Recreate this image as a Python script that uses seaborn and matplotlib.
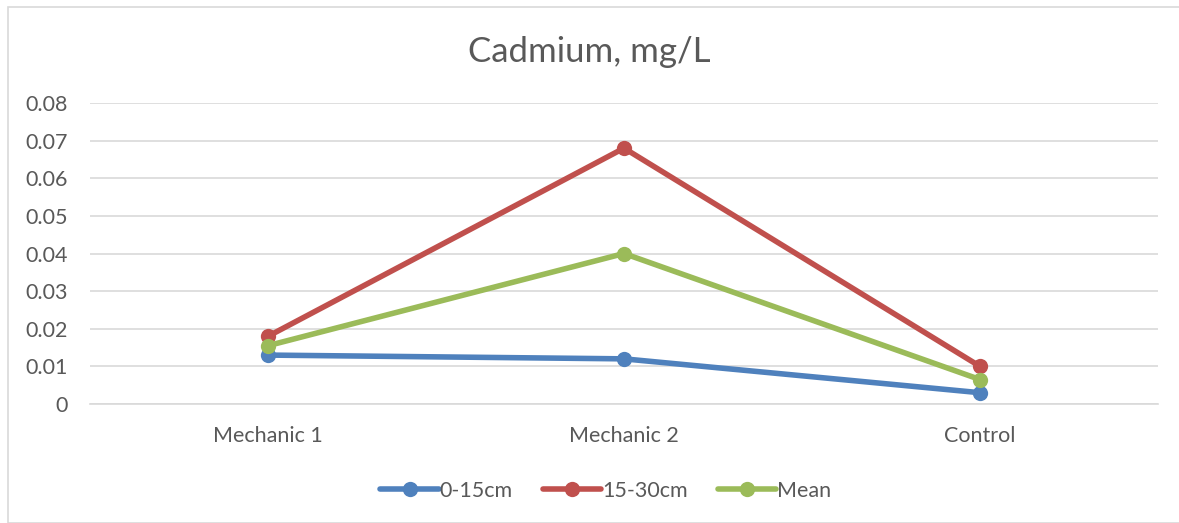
import matplotlib
matplotlib.use("Agg")
import matplotlib.pyplot as plt
import seaborn as sns
import pandas as pd
from matplotlib.patches import Rectangle

# values
sites = ["Mechanic 1", "Mechanic 2", "Control"]
depth_0_15 = [0.013, 0.012, 0.003]
depth_15_30 = [0.018, 0.068, 0.010]
mean_vals = [0.0155, 0.040, 0.0065]
series_names = ["0-15cm", "15-30cm", "Mean"]
colors = ["#4f81bd", "#c0504d", "#9bbb59"]

df = pd.DataFrame({
    "Site": sites * 3,
    "Value": depth_0_15 + depth_15_30 + mean_vals,
    "Series": [s for s in series_names for _ in sites],
})
df["x"] = df["Site"].map({s: i for i, s in enumerate(sites)})

sns.set_style("white")
plt.rcParams["font.family"] = ["Lato", "DejaVu Sans"]

fig = plt.figure(figsize=(11.79, 5.23), dpi=100)
ax = fig.add_axes([90 / 1179, 1 - 404 / 523, (1158 - 90) / 1179, (404 - 103) / 523])

sns.lineplot(data=df, x="x", y="Value", hue="Series", palette=colors,
             marker="o", markersize=11, markeredgewidth=0, linewidth=4,
             sort=False, ax=ax)

ax.set_xlim(-0.5, 2.5)
ax.set_ylim(0, 0.08)
ax.set_yticks([i / 100 for i in range(9)])
ax.set_yticklabels(["0"] + [f"0.0{i}" for i in range(1, 9)])
ax.set_xticks(range(len(sites)))
ax.set_xticklabels(sites)
ax.grid(axis="y", color="#d9d9d9", linewidth=1.2)
ax.set_axisbelow(True)
for side in ["top", "right", "left"]:
    ax.spines[side].set_visible(False)
ax.spines["bottom"].set_color("#d9d9d9")
ax.spines["bottom"].set_linewidth(1.2)
ax.tick_params(axis="both", length=0, labelsize=15.5, colors="#595959")
ax.tick_params(axis="y", pad=16)
ax.tick_params(axis="x", pad=16)
ax.set_xlabel("")
ax.set_ylabel("")

fig.text(0.5, 1 - 52 / 523, "Cadmium, mg/L", ha="center", va="center",
         fontsize=25, color="#595959")

ax.legend(loc="upper center", bbox_to_anchor=(0.483, -0.19), ncol=3, frameon=False,
          fontsize=15.5, labelcolor="#595959", handlelength=2.7, handletextpad=0.05,
          columnspacing=1.4)

fig.patches.append(Rectangle((8 / 1179, 0), 1.2, 1 - 7 / 523, transform=fig.transFigure,
                             fill=False, edgecolor="#d9d9d9", linewidth=1.2))

fig.savefig("out.png", dpi=100, facecolor="white")
